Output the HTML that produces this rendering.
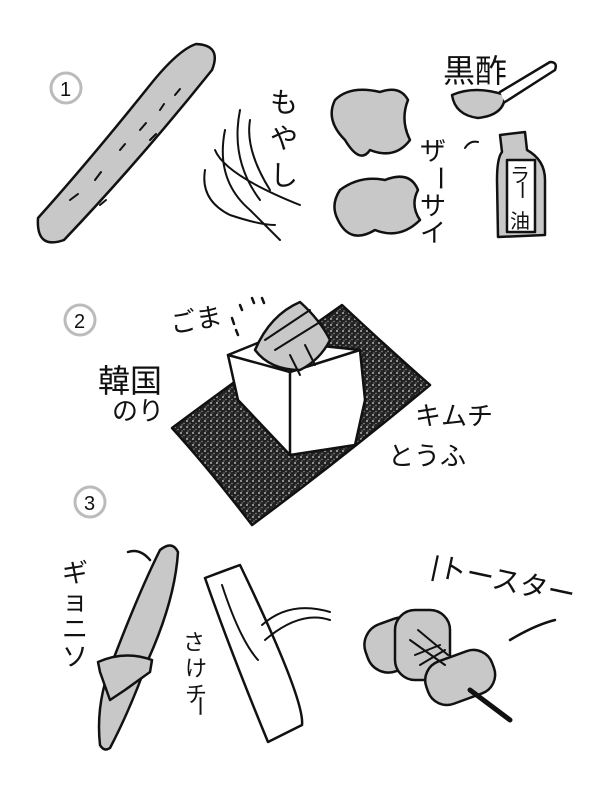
<!DOCTYPE html>
<html><head><meta charset="utf-8"><style>
html,body{margin:0;padding:0;background:#fff;}
svg{display:block;}
text{font-family:"Liberation Sans","Noto Sans CJK JP",sans-serif;fill:#111;}
</style></head><body>
<svg width="600" height="800" viewBox="0 0 600 800" xmlns="http://www.w3.org/2000/svg">
<defs>
<pattern id="nori" width="6" height="6" patternUnits="userSpaceOnUse">
<rect width="6" height="6" fill="#222"/>
<circle cx="1" cy="1" r="0.9" fill="#ddd"/><circle cx="4" cy="3.5" r="0.7" fill="#999"/><circle cx="2" cy="5" r="0.5" fill="#eee"/>
</pattern>
</defs>
<g stroke="#111" stroke-width="2.5" stroke-linecap="round" stroke-linejoin="round">
<circle cx="66" cy="88" r="15" fill="none" stroke="#bbb" stroke-width="3"/>
<text x="60" y="96" font-size="20" fill="#bbb" stroke="none">1</text>
<path d="M38 218 Q36 250 64 240 Q140 160 212 70 Q222 45 196 44 Q178 50 150 85 Q90 160 38 218 Z" fill="#c8c8c8"/>
<path d="M70 200 l8 -6 M95 180 l6 -8 M120 150 l5 -6 M140 130 l6 -7 M160 110 l4 -6 M100 205 l6 -5 M150 140 l6 -6 M175 95 l5 -6" fill="none" stroke-width="2"/>
<path d="M225 130 Q215 180 250 210 Q270 230 280 240 M240 110 Q230 160 260 200 M205 170 Q200 200 230 215 Q260 225 275 225 M215 150 Q225 175 300 205 M250 120 Q245 150 270 190" fill="none" stroke-width="2"/>
<text x="270" y="112" font-size="28" stroke="none">も</text>
<text x="270" y="148" font-size="28" stroke="none">や</text>
<text x="270" y="185" font-size="28" stroke="none">し</text>
<path d="M335 100 Q350 85 380 92 Q400 85 408 100 Q400 120 410 140 Q395 160 370 150 Q360 165 345 140 Q325 120 335 100 Z" fill="#c8c8c8"/>
<path d="M340 190 Q360 175 385 180 Q410 170 418 190 Q410 205 420 220 Q400 240 375 230 Q350 245 338 220 Q330 205 340 190 Z" fill="#c8c8c8"/>
<text x="420" y="160" font-size="26" stroke="none">ザ</text>
<text x="425" y="185" font-size="26" stroke="none" transform="rotate(90 438 178)">ー</text>
<text x="420" y="215" font-size="26" stroke="none">サ</text>
<text x="420" y="242" font-size="26" stroke="none">イ</text>
<text x="443" y="82" font-size="32" stroke="none">黒酢</text>
<path d="M452 95 Q475 85 505 95 Q505 115 478 118 Q455 115 452 95 Z" fill="#c8c8c8"/>
<path d="M500 92 L550 62 Q558 62 555 70 L505 102" fill="#fff"/>
<path d="M465 148 Q470 140 478 142" fill="none" stroke-width="2"/>
<path d="M500 135 L525 132 L527 150 Q545 160 545 180 L545 235 L498 237 L497 180 Q497 158 502 152 Z" fill="#c8c8c8"/>
<rect x="507" y="160" width="28" height="72" fill="#fff"/>
<text x="510" y="182" font-size="20" stroke="none">ラ</text>
<text x="511" y="196" font-size="20" stroke="none" transform="rotate(90 521 190)">ー</text>
<text x="510" y="228" font-size="20" stroke="none">油</text>
<circle cx="80" cy="320" r="15" fill="none" stroke="#bbb" stroke-width="3"/>
<text x="74" y="328" font-size="20" fill="#bbb" stroke="none">2</text>
<path d="M172 428 Q250 370 342 305 Q390 350 430 385 Q340 460 252 525 Q210 470 172 428 Z" fill="url(#nori)"/>
<path d="M228 355 L265 340 L360 350 L365 400 L355 445 L290 455 L238 400 Z" fill="#fff"/>
<path d="M228 355 L290 372 L360 350 M290 372 L290 455" fill="none"/>
<path d="M255 350 Q270 315 300 302 Q320 320 330 340 Q320 360 300 370 Q270 370 255 350 Z" fill="#c8c8c8"/>
<path d="M265 340 L310 310 M275 350 L320 322 M290 355 L300 375 M305 345 L315 365" fill="none" stroke-width="2"/>
<text x="170" y="330" font-size="26" stroke="none" transform="rotate(-10 190 320)">ごま</text>
<path d="M232 318 l2 6 M240 305 l2 5 M252 298 l2 5 M262 298 l2 5 M236 330 l2 5" fill="none"/>
<text x="98" y="392" font-size="32" stroke="none">韓国</text>
<text x="112" y="420" font-size="26" stroke="none">のり</text>
<text x="415" y="425" font-size="26" stroke="none">キムチ</text>
<text x="388" y="465" font-size="26" stroke="none">とうふ</text>
<circle cx="90" cy="502" r="15" fill="none" stroke="#bbb" stroke-width="3"/>
<text x="84" y="510" font-size="20" fill="#bbb" stroke="none">3</text>
<path d="M100 745 Q95 700 115 655 Q140 590 160 550 Q172 540 178 552 Q175 600 148 660 Q130 710 110 748 Q104 752 100 745 Z" fill="#c8c8c8"/>
<path d="M128 552 Q140 548 150 560" fill="none"/>
<path d="M98 662 Q125 650 152 660 L150 672 L125 690 L110 700 L100 672 Z" fill="#c8c8c8"/>
<text x="62" y="582" font-size="26" stroke="none">ギ</text>
<text x="62" y="610" font-size="26" stroke="none">ョ</text>
<text x="62" y="638" font-size="26" stroke="none">ニ</text>
<text x="62" y="666" font-size="26" stroke="none">ソ</text>
<path d="M205 578 L240 565 Q305 700 302 725 L268 742 Q230 650 205 578 Z" fill="#fff"/>
<path d="M205 578 Q225 570 240 565 M222 585 Q240 640 258 660" fill="none" stroke-width="2"/>
<path d="M262 625 Q290 600 330 612 M265 640 Q300 610 330 620" fill="none" stroke-width="2"/>
<text x="183" y="650" font-size="22" stroke="none">さ</text>
<text x="185" y="676" font-size="22" stroke="none">け</text>
<text x="185" y="702" font-size="22" stroke="none">チ</text>
<text x="187" y="712" font-size="22" stroke="none" transform="rotate(90 198 706)">ー</text>
<rect x="365" y="620" width="60" height="50" rx="22" fill="#c8c8c8" transform="rotate(-20 395 645)"/>
<rect x="395" y="610" width="55" height="70" rx="20" fill="#c8c8c8"/>
<rect x="425" y="655" width="70" height="45" rx="20" fill="#c8c8c8" transform="rotate(-20 460 677)"/>
<path d="M410 640 L445 665 M418 630 L448 655 M415 655 L440 645 M420 665 L445 650" fill="none" stroke-width="2"/>
<path d="M470 690 L510 720" fill="none" stroke-width="5"/>
<text x="430" y="585" font-size="28" stroke="none" transform="rotate(12 480 580)">|トースター</text>
<path d="M510 640 Q535 625 555 620" fill="none"/>
</g>
</svg>
</body></html>
